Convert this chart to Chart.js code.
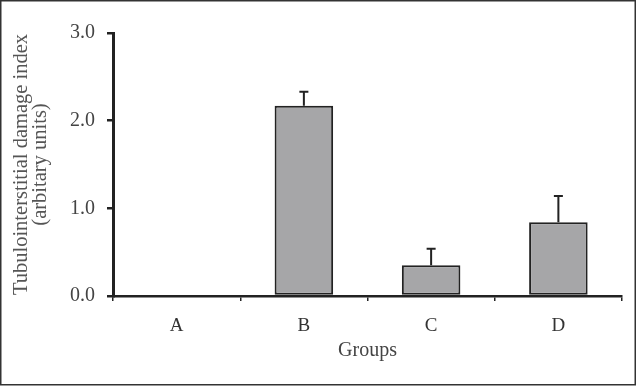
<!DOCTYPE html>
<html>
<head>
<meta charset="utf-8">
<script src="https://cdn.jsdelivr.net/npm/chart.js@4"></script>
<style>
  html, body { margin: 0; padding: 0; background: #fff; }
  #wrap { width: 640px; height: 386px; }
</style>
</head>
<body>
<div id="wrap"><canvas id="chart" width="640" height="386"></canvas></div>
<script>
// data
const groups = ['A', 'B', 'C', 'D'];
const damageIndex = [0, 2.17, 0.35, 0.84];
const errorTop = [0, 2.33, 0.54, 1.14];
const yTicks = [0, 1, 2, 3];

// draws the upper error bars through the y scale
const errorBars = {
  id: 'errorBars',
  afterDatasetsDraw(chart) {
    const ctx = chart.ctx;
    const y = chart.scales.y;
    const meta = chart.getDatasetMeta(0);
    ctx.save();
    ctx.strokeStyle = '#222';
    ctx.lineWidth = 2;
    meta.data.forEach((bar, i) => {
      if (errorTop[i] <= damageIndex[i]) return;
      const yTop = y.getPixelForValue(errorTop[i]);
      const yBar = y.getPixelForValue(damageIndex[i]);
      ctx.beginPath();
      ctx.moveTo(bar.x, yBar);
      ctx.lineTo(bar.x, yTop);
      ctx.moveTo(bar.x - 4.5, yTop);
      ctx.lineTo(bar.x + 4.5, yTop);
      ctx.stroke();
    });
    ctx.restore();
  }
};

// thin frame around the whole figure
const frame = {
  id: 'frame',
  afterDraw(chart) {
    const ctx = chart.ctx;
    ctx.save();
    ctx.strokeStyle = '#333';
    ctx.lineWidth = 1.5;
    ctx.strokeRect(0.75, 0.75, 634.5, 384);
    ctx.restore();
  }
};

new Chart(document.getElementById('chart'), {
  type: 'bar',
  data: {
    labels: groups,
    datasets: [{
      data: damageIndex,
      backgroundColor: '#a6a6a8',
      borderColor: '#222',
      borderWidth: 2,
      borderSkipped: false,
      categoryPercentage: 1,
      barPercentage: 0.46
    }]
  },
  options: {
    responsive: false,
    animation: false,
    layout: { padding: { left: 0, top: 33, right: 18, bottom: 0 } },
    plugins: {
      legend: { display: false },
      tooltip: { enabled: false }
    },
    scales: {
      x: {
        afterFit: (s) => { s.height = 90; },
        border: { color: '#222', width: 2.5 },
        grid: {
          offset: true,
          drawOnChartArea: false,
          drawTicks: true,
          tickLength: 5,
          color: '#222',
          lineWidth: 1.5
        },
        ticks: {
          color: '#333',
          padding: 14,
          font: { family: 'Liberation Serif', size: 19 }
        },
        title: {
          display: true,
          text: 'Groups',
          color: '#444',
          padding: { top: 0, bottom: 23 },
          font: { family: 'Liberation Serif', size: 20 }
        }
      },
      y: {
        min: 0,
        max: 3,
        afterFit: (s) => { s.width = 113; },
        afterBuildTicks: (s) => { s.ticks = yTicks.map(v => ({ value: v })); },
        border: { color: '#222', width: 3 },
        grid: {
          drawOnChartArea: false,
          drawTicks: true,
          tickLength: 6,
          color: '#222',
          lineWidth: 2.5
        },
        ticks: {
          color: '#444',
          padding: 12,
          font: { family: 'Liberation Serif', size: 20 },
          callback: (v) => Number(v).toFixed(1)
        },
        title: {
          display: true,
          text: ['Tubulointerstitial damage index', '(arbitary units)'],
          color: '#555',
          padding: { top: 12, bottom: 0 },
          font: { family: 'Liberation Serif', size: 20.5, lineHeight: 0.92 }
        }
      }
    }
  },
  plugins: [errorBars, frame]
});
</script>
</body>
</html>
